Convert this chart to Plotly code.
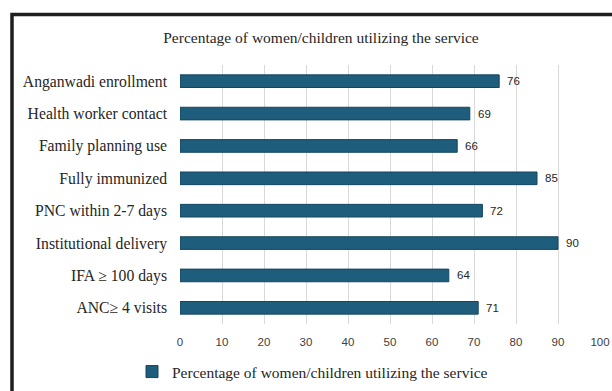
import plotly.graph_objects as go

categories = [
    "Anganwadi enrollment",
    "Health worker contact",
    "Family planning use",
    "Fully immunized",
    "PNC within 2-7 days",
    "Institutional delivery",
    "IFA ≥ 100 days",
    "ANC≥ 4 visits",
]
values = [76, 69, 66, 85, 72, 90, 64, 71]
x_ticks = [0, 10, 20, 30, 40, 50, 60, 70, 80, 90, 100]
series_name = "Percentage of women/children utilizing the service"
title_text = "Percentage of women/children utilizing the service"

BAR = "#1f5d7c"
SERIF = "Liberation Serif, Times New Roman, serif"
SANS = "Liberation Sans, Arial, sans-serif"

fig = go.Figure()
fig.add_trace(go.Bar(
    y=categories, x=values, orientation="h", name=series_name,
    marker=dict(color=BAR, line=dict(color="#15465f", width=1)),
    showlegend=True,
))

for c, v in zip(categories, values):
    fig.add_annotation(x=v, y=c, xref="x", yref="y", text=str(v), showarrow=False,
                       xanchor="left", xshift=6, font=dict(family=SANS, size=11.5, color="#262626"))

# outer frame
fig.add_shape(type="rect", xref="paper", yref="paper",
              x0=(12 - 180) / 420, x1=(650 - 180) / 420,
              y0=(324 - 420) / 259, y1=(324 - 14.5) / 259,
              line=dict(color="#1e1e1e", width=3.5), layer="above")

fig.update_layout(
    width=612, height=391,
    margin=dict(l=180, r=12, t=65, b=67, autoexpand=False),
    paper_bgcolor="white", plot_bgcolor="white",
    bargap=0.61,
    title=dict(text=title_text, x=(321) / 612, xanchor="center", y=1 - 38 / 391, yanchor="middle",
               font=dict(family=SERIF, size=15.5, color="#262626")),
    xaxis=dict(range=[0, 100], tickvals=x_ticks, showgrid=True, gridcolor="#d9d9d9", gridwidth=1,
               zeroline=False, showline=False, ticks="", automargin=False,
               tickfont=dict(family=SANS, size=11.5, color="#404040"), ticklabelstandoff=9),
    yaxis=dict(autorange="reversed", showgrid=False, showline=False, ticks="", automargin=False,
               tickfont=dict(family=SERIF, size=15.7, color="#262626"), ticklabelstandoff=12),
    legend=dict(orientation="h", x=(132 - 180) / 420, xanchor="left", y=(324 - 372) / 259,
                yanchor="middle",
                font=dict(family=SERIF, size=15.5, color="#262626"), bgcolor="rgba(0,0,0,0)"),
)

fig.write_html("out.html", config={"displayModeBar": False},
               post_script="document.body.style.margin='0';document.body.style.overflow='hidden';")
